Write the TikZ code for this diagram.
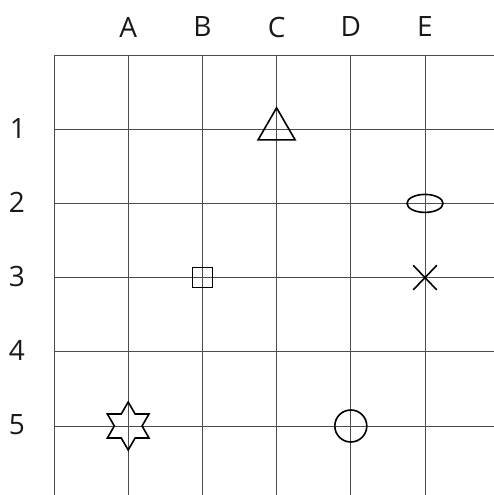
\documentclass[tikz,border=0pt]{standalone}
\usepackage{fontspec}
\setmainfont{Open Sans}
\usepackage{tikz}
\usetikzlibrary{shapes.geometric,shapes.misc}

\tikzset{
  gridline/.style={draw=black!70, line width=0.8pt},
  mark shape/.style={draw=black, line width=1.6pt, inner sep=0pt},
  axis label/.style={font=\fontsize{28}{30}\selectfont, text=black!90, inner sep=0pt}
}

\begin{document}
\begin{tikzpicture}[x=1pt, y=-1pt]
    \useasboundingbox (0,0) rectangle (494,495);
    % Grid (open to the right and at the bottom)
    \draw[gridline] (54,495) -- (54,55) -- (494,55);
    \foreach \k in {1,...,5} {
        \draw[gridline] ({54+74.2*\k},55) -- ({54+74.2*\k},495);
        \draw[gridline] (54,{55+74.2*\k}) -- (494,{55+74.2*\k});
    }
    % Column letters
    \node[axis label] (colA) at (128.2,27) {A};
    \node[axis label] (colB) at (202.4,27) {B};
    \node[axis label] (colC) at (276.6,27) {C};
    \node[axis label] (colD) at (350.8,27) {D};
    \node[axis label] (colE) at (425,27) {E};
    % Row numbers
    \node[axis label] (row1) at (18,128.2) {1};
    \node[axis label] (row2) at (17,202.4) {2};
    \node[axis label] (row3) at (17,276.6) {3};
    \node[axis label] (row4) at (17,350.8) {4};
    \node[axis label] (row5) at (17,425) {5};
    % Shapes on the crossings
    \node[mark shape, regular polygon, regular polygon sides=3, minimum size=42.8pt]
        (triC1) at (276.6,129.2) {};
    \node[mark shape, ellipse, minimum width=36pt, minimum height=18pt]
        (ovalE2) at (425,203.4) {};
    \node[mark shape, rectangle, minimum size=20pt] (sqB3) at (202.4,277.6) {};
    \node[draw=black, line width=1.6pt, cross out, inner sep=0pt,
        minimum width=22pt, minimum height=23pt] (crossE3) at (425,277.6) {};
    \node[mark shape, star, star points=6, star point ratio=1.73, minimum size=48pt]
        (starA5) at (128.2,426) {};
    \node[mark shape, circle, minimum size=32pt] (circD5) at (350.8,426) {};
\end{tikzpicture}
\end{document}
